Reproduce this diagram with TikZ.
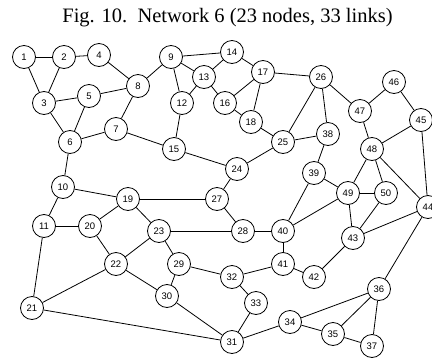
\documentclass[tikz,border=0pt]{standalone}
\usepackage{fontspec}
\setmainfont{Liberation Serif}
\newfontfamily\nodefont{Liberation Sans}
\begin{document}
\begin{tikzpicture}[x=1pt,y=-1pt,
  nd/.style={circle,draw,line width=0.8pt,fill=white,minimum size=23pt,inner sep=0pt,font=\nodefont\fontsize{9.5}{10}\selectfont},
  ed/.style={line width=0.8pt}]
\useasboundingbox (0,0) rectangle (432,362);
\clip (0,0) rectangle (432,362);
\node[anchor=base,font=\fontsize{20.5}{22}\selectfont] (title) at (227.5,22) {Fig. 10.\ \ Network 6 (23 nodes, 33 links)};
\foreach \n/\x/\y in {1/24/57,2/64/57,3/44/103,4/99/55,5/89/96,6/70/142,7/116/129,8/138/86,9/171/57,
 10/63/187,11/44/226,12/182/103,13/204/77,14/232/52,15/174/149,16/225/103,17/263/72,18/251/122,19/128/199,
 20/90/226,21/32/308,22/116/264,23/159/231,24/237/169,25/283/142,26/321/77,27/217/199,28/243/231,29/179/264,
 30/167/296,31/232/342,32/232/277,33/256/303,34/290/322,35/333/334,36/379/289,37/372/346,38/328/134,39/314/173,
 40/283/231,41/283/264,42/314/277,43/353/238,44/428/207,45/421/120,46/394/82,47/360/111,48/372/149,49/348/193,50/386/193}
 \node[nd] (n\n) at (\x,\y) {\n};
\foreach \a/\b in {1/2,2/4,1/3,2/3,3/5,3/6,5/6,5/8,4/8,8/9,8/7,6/7,7/15,9/12,9/13,9/14,12/13,12/15,6/10,15/24,
 14/13,14/17,13/16,16/17,16/18,17/18,17/26,18/25,26/25,26/38,26/47,25/38,25/24,38/39,47/46,46/45,47/48,45/48,45/44,
 48/49,48/50,48/44,10/11,10/19,11/20,11/21,19/20,19/27,19/23,20/22,23/22,23/28,23/29,29/30,29/32,22/30,22/21,21/31,30/31,
 24/27,27/28,28/40,39/40,39/49,49/40,49/50,49/43,50/43,43/44,40/41,41/42,41/32,42/43,32/33,33/31,31/34,34/36,34/35,35/36,35/37,36/37,36/44}
 \draw[ed] (n\a) -- (n\b);
\end{tikzpicture}
\end{document}
